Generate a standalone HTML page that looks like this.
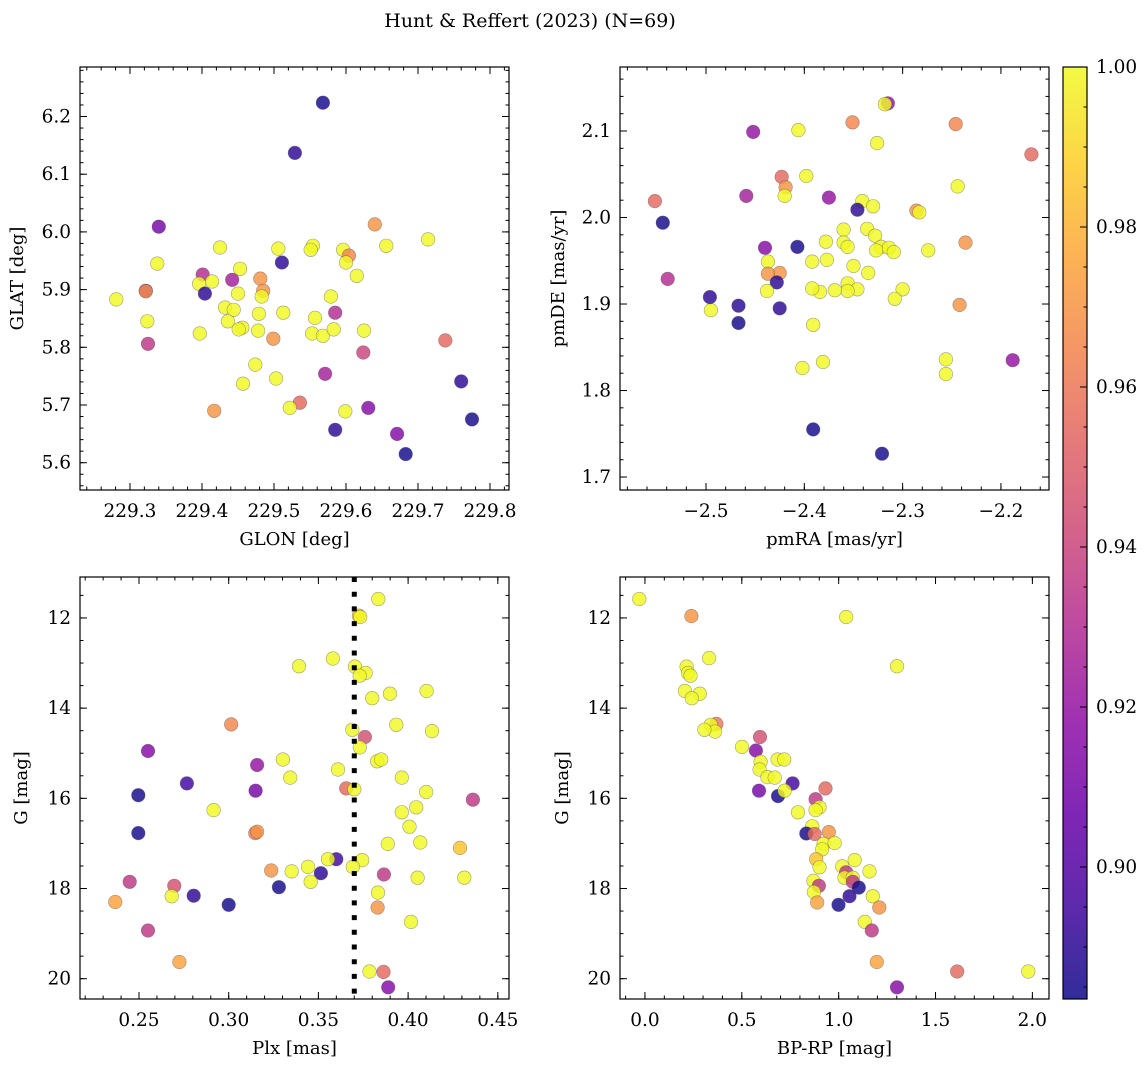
<!DOCTYPE html>
<html><head><meta charset="utf-8"><title>Hunt & Reffert (2023)</title>
<style>
html,body{margin:0;padding:0;background:#fff;}
svg text{font-family:"DejaVu Serif","Liberation Serif",serif;fill:#000;}
</style></head>
<body>
<svg id="chart" xmlns="http://www.w3.org/2000/svg" width="1148" height="1067" viewBox="0 0 1148 1067">
<text x="530" y="27" font-size="19" text-anchor="middle">Hunt &amp; Reffert (2023) (N=69)</text>
</svg>
<script>
// ---- Panel 1: GLON vs GLAT ----
const p1x=[229.568,229.529,229.340,229.640,229.714,229.656,229.425,229.506,229.554,229.551,229.596,229.604,229.600,229.338,229.511,229.453,229.401,229.615,229.442,229.481,229.414,229.396,229.322,229.322,229.485,229.404,229.281,229.579,229.483,229.450,229.585,229.513,229.432,229.444,229.479,229.557,229.324,229.436,229.456,229.478,229.451,229.625,229.553,229.568,229.583,229.397,229.499,229.738,229.325,229.624,229.474,229.571,229.503,229.457,229.760,229.536,229.522,229.631,229.417,229.599,229.775,229.585,229.671,229.683];
const p1y=[6.224,6.137,6.009,6.013,5.987,5.976,5.973,5.971,5.976,5.969,5.969,5.959,5.947,5.945,5.947,5.936,5.926,5.924,5.917,5.919,5.914,5.910,5.898,5.897,5.898,5.893,5.883,5.888,5.888,5.893,5.860,5.860,5.869,5.865,5.858,5.851,5.845,5.845,5.834,5.829,5.831,5.829,5.824,5.820,5.831,5.824,5.815,5.812,5.806,5.791,5.770,5.754,5.746,5.737,5.741,5.704,5.695,5.695,5.690,5.689,5.675,5.657,5.650,5.615];
const p1p=[0.885,0.89,0.91,0.97,1,1,1,1,1,1,1,0.965,1,1,0.89,1,0.93,1,0.925,0.97,1,1,0.91,0.97,0.97,0.89,1,1,1,1,0.93,1,1,1,1,1,1,1,1,1,1,1,1,1,1,1,0.97,0.955,0.935,0.94,1,0.925,1,1,0.89,0.955,1,0.915,0.97,1,0.885,0.89,0.915,0.885];
const p1xTicks=[229.3,229.4,229.5,229.6,229.7,229.8];
const p1yTicks=[5.6,5.7,5.8,5.9,6.0,6.1,6.2];
// ---- Panel 2: pmRA vs pmDE ----
const p2x=[-2.315,-2.318,-2.351,-2.246,-2.452,-2.406,-2.326,-2.169,-2.398,-2.423,-2.419,-2.244,-2.459,-2.375,-2.420,-2.552,-2.341,-2.330,-2.346,-2.286,-2.283,-2.544,-2.360,-2.336,-2.328,-2.378,-2.236,-2.360,-2.356,-2.322,-2.314,-2.407,-2.440,-2.309,-2.327,-2.274,-2.377,-2.392,-2.437,-2.350,-2.425,-2.437,-2.335,-2.539,-2.356,-2.428,-2.438,-2.346,-2.356,-2.369,-2.300,-2.384,-2.392,-2.308,-2.242,-2.467,-2.425,-2.495,-2.391,-2.467,-2.496,-2.381,-2.256,-2.188,-2.402,-2.256,-2.391,-2.321];
const p2y=[2.132,2.131,2.110,2.108,2.099,2.101,2.086,2.073,2.048,2.047,2.035,2.036,2.025,2.023,2.025,2.019,2.019,2.013,2.009,2.008,2.006,1.994,1.986,1.987,1.979,1.972,1.971,1.971,1.966,1.966,1.965,1.966,1.965,1.960,1.962,1.962,1.951,1.949,1.949,1.944,1.936,1.935,1.936,1.929,1.924,1.925,1.915,1.917,1.915,1.916,1.917,1.914,1.918,1.906,1.899,1.898,1.895,1.893,1.876,1.878,1.908,1.833,1.836,1.835,1.826,1.819,1.755,1.727];
const p2p=[0.92,1,0.965,0.965,0.92,1,1,0.955,1,0.955,0.97,1,0.925,0.92,1,0.955,1,1,0.89,0.97,1,0.885,1,1,1,1,0.97,1,1,1,1,0.885,0.915,1,1,1,1,1,1,1,0.97,0.97,1,0.93,1,0.89,1,1,1,1,1,1,1,1,0.97,0.89,0.89,1,1,0.885,0.89,1,1,0.92,1,1,0.885,0.885];
const p2xTicks=[-2.5,-2.4,-2.3,-2.2];
const p2yTicks=[1.7,1.8,1.9,2.0,2.1];
// ---- Panel 3: Plx vs G ----
const p3x=[0.3834,0.3726,0.3733,0.3581,0.3392,0.3704,0.3763,0.3730,0.3899,0.4103,0.3800,0.3014,0.3934,0.3689,0.4133,0.3759,0.3731,0.2550,0.3302,0.3828,0.3850,0.3158,0.3609,0.3343,0.3965,0.2767,0.3150,0.3655,0.3700,0.2496,0.4101,0.4361,0.2916,0.3965,0.4045,0.4008,0.2496,0.3148,0.3158,0.3887,0.4068,0.4289,0.3600,0.3553,0.3744,0.3442,0.3692,0.3237,0.3351,0.3514,0.3865,0.2448,0.2697,0.3457,0.4053,0.4313,0.3280,0.3832,0.2682,0.2805,0.2368,0.3000,0.3830,0.4016,0.2550,0.2725,0.3785,0.3863,0.3889];
const p3y=[11.58,11.95,11.98,12.90,13.07,13.08,13.22,13.28,13.68,13.62,13.78,14.36,14.37,14.48,14.51,14.64,14.87,14.95,15.14,15.18,15.14,15.26,15.36,15.54,15.54,15.67,15.83,15.78,15.80,15.93,15.86,16.03,16.26,16.31,16.20,16.63,16.77,16.77,16.74,17.01,16.98,17.10,17.35,17.35,17.37,17.52,17.52,17.60,17.62,17.66,17.69,17.85,17.94,17.85,17.76,17.76,17.97,18.09,18.17,18.16,18.30,18.36,18.42,18.74,18.93,19.63,19.84,19.85,20.19];
const p3p=[1,0.985,1,1,1,1,1,1,1,1,1,0.965,1,1,1,0.945,1,0.915,1,1,1,0.92,1,1,1,0.895,0.91,0.955,1,0.885,1,0.935,1,1,1,1,0.885,0.96,0.97,1,1,0.985,0.895,1,1,1,1,0.97,1,0.89,0.935,0.935,0.945,1,1,1,0.885,1,1,0.89,0.975,0.885,0.97,1,0.935,0.975,1,0.955,0.915];
const p3xTicks=[0.25,0.30,0.35,0.40,0.45];
const gTicks=[12,14,16,18,20];
const plxCut=[0.37];
// ---- Panel 4: BP-RP vs G ----
const p4x=[-0.029,0.240,1.039,0.331,0.215,0.223,0.235,1.301,0.206,0.283,0.242,0.369,0.340,0.362,0.307,0.594,0.501,0.573,0.597,0.685,0.719,0.592,0.632,0.670,0.762,0.589,0.687,0.721,0.932,0.881,0.901,0.881,0.790,0.864,0.833,0.876,0.949,0.922,0.979,0.915,0.884,0.901,1.083,1.018,1.159,1.039,1.030,1.073,1.073,1.104,0.870,0.898,0.872,1.056,1.176,0.889,0.999,1.210,1.135,1.171,1.197,1.612,1.979,1.301];
const p4y=[11.58,11.96,11.98,12.89,13.08,13.22,13.28,13.07,13.62,13.68,13.78,14.35,14.37,14.52,14.48,14.64,14.86,14.94,15.19,15.14,15.14,15.36,15.53,15.54,15.67,15.83,15.95,15.83,15.78,16.02,16.20,16.26,16.31,16.62,16.78,16.79,16.75,17.01,16.99,17.13,17.35,17.53,17.37,17.51,17.62,17.64,17.76,17.76,17.85,17.98,17.83,17.94,18.08,18.17,18.17,18.31,18.36,18.42,18.74,18.93,19.63,19.84,19.84,20.19];
const p4p=[1,0.97,1,1,1,1,1,1,1,1,1,0.96,1,1,1,0.945,1,0.915,1,1,1,1,1,1,0.895,0.91,0.885,1,0.955,0.935,1,1,1,1,0.885,0.955,0.97,1,1,1,0.985,1,1,1,1,0.935,1,1,0.935,0.885,1,0.935,1,0.89,1,0.975,0.885,0.97,1,0.935,0.975,0.955,1,0.915];
const p4xTicks=[0.0,0.5,1.0,1.5,2.0];
// ---- Colorbar ----
const cbTicks=[0.90,0.92,0.94,0.96,0.98,1.00];
const cbRange=[0.8835,1.0];

const NS="http://www.w3.org/2000/svg";
const svg=document.getElementById('chart');
function mk(tag,attrs,parent){const e=document.createElementNS(NS,tag);for(const k in attrs)e.setAttribute(k,attrs[k]);(parent||svg).appendChild(e);return e;}
const stops=[[13,8,135],[65,4,157],[106,0,168],[143,13,164],[177,42,144],[204,71,120],[225,100,98],[242,132,75],[252,166,54],[252,206,37],[240,249,33]];
function plasma(t){t=Math.max(0,Math.min(1,t));const f=t*10,i=Math.min(9,Math.floor(f)),r=f-i;const a=stops[i],b=stops[i+1];return 'rgb('+a.map((v,k)=>Math.round(v+(b[k]-v)*r)).join(',')+')';}
function cnorm(p){return (p-cbRange[0])/(cbRange[1]-cbRange[0]);}
function fmt(v,d){let s=v.toFixed(d);if(v<0)s='\u2212'+s.slice(1);return s;}
const TFS=18.5, LFS=18;

function panel(o){
  const g=mk('g',{});
  
  
  const sx=v=>o.L+(v-o.xr[0])/(o.xr[1]-o.xr[0])*(o.R-o.L);
  const sy=v=>o.inv? o.T+(v-o.yr[0])/(o.yr[1]-o.yr[0])*(o.B-o.T) : o.B-(v-o.yr[0])/(o.yr[1]-o.yr[0])*(o.B-o.T);
  const pts=mk('g',{},g);
  
  
  for(let i=0;i<o.x.length;i++){
    const c=mk('circle',{cx:sx(o.x[i]).toFixed(1),cy:sy(o.y[i]).toFixed(1),r:6.8,fill:plasma(cnorm(o.p[i])),'fill-opacity':0.82,stroke:'#555','stroke-opacity':0.55,'stroke-width':0.6},pts);
    
    
  }
  if(o.vline){for(const v of o.vline){const l=mk('line',{x1:sx(v),x2:sx(v),y1:o.T,y2:o.B,stroke:'#000','stroke-width':5,'stroke-dasharray':'5,9.7'},g);
    
    }}
  const fr=mk('rect',{x:o.L,y:o.T,width:o.R-o.L,height:o.B-o.T,fill:'none',stroke:'#000','stroke-width':1.2},g);
  
  
  const tk=mk('g',{stroke:'#000','stroke-width':1},g);
  
  
  const xs=Math.ceil(o.xr[0]/o.xm-1e-6);
  for(let k=xs;k*o.xm<=o.xr[1]+1e-9;k++){const X=sx(k*o.xm);mk('line',{x1:X,x2:X,y1:o.B,y2:o.B-3.5},tk);mk('line',{x1:X,x2:X,y1:o.T,y2:o.T+3.5},tk);}
  const ys=Math.ceil(o.yr[0]/o.ym-1e-6);
  for(let k=ys;k*o.ym<=o.yr[1]+1e-9;k++){const Y=sy(k*o.ym);mk('line',{x1:o.L,x2:o.L+3.5,y1:Y,y2:Y},tk);mk('line',{x1:o.R,x2:o.R-3.5,y1:Y,y2:Y},tk);}
  for(const v of o.xt){const X=sx(v);mk('line',{x1:X,x2:X,y1:o.B,y2:o.B-7},tk);mk('line',{x1:X,x2:X,y1:o.T,y2:o.T+7},tk);
    const t=mk('text',{x:X,y:o.B+27,'font-size':TFS,'text-anchor':'middle'},g);t.textContent=fmt(v,o.xd);
    
    }
  for(const v of o.yt){const Y=sy(v);mk('line',{x1:o.L,x2:o.L+7,y1:Y,y2:Y},tk);mk('line',{x1:o.R,x2:o.R-7,y1:Y,y2:Y},tk);
    const t=mk('text',{x:o.L-9,y:Y+6,'font-size':TFS,'text-anchor':'end'},g);t.textContent=fmt(v,o.yd);
    
    }
  const xl=mk('text',{x:(o.L+o.R)/2,y:o.B+55,'font-size':LFS,'text-anchor':'middle'},g);xl.textContent=o.xlab;
  
  
  const yc=(o.T+o.B)/2;
  const yl=mk('text',{x:o.ylx,y:yc,'font-size':LFS,'text-anchor':'middle',transform:'rotate(-90 '+o.ylx+' '+yc+')'},g);yl.textContent=o.ylab;
  
  
}
panel({name:'panel-glon-glat',L:80,R:509,T:67,B:490,xr:[229.2306,229.8264],yr:[5.5527,6.2858],inv:false,x:p1x,y:p1y,p:p1p,xt:p1xTicks,yt:p1yTicks,xm:0.02,ym:0.02,xd:1,yd:1,xlab:'GLON [deg]',ylab:'GLAT [deg]',ylx:23});
panel({name:'panel-pmra-pmde',L:620,R:1049,T:67,B:490,xr:[-2.5875,-2.1511],yr:[1.6850,2.1740],inv:false,x:p2x,y:p2y,p:p2p,xt:p2xTicks,yt:p2yTicks,xm:0.02,ym:0.02,xd:1,yd:1,xlab:'pmRA [mas/yr]',ylab:'pmDE [mas/yr]',ylx:564});
panel({name:'panel-plx-g',L:80,R:509,T:577,B:999,xr:[0.21711,0.45624],yr:[11.092,20.45],inv:true,x:p3x,y:p3y,p:p3p,xt:p3xTicks,yt:gTicks,xm:0.01,ym:0.5,xd:2,yd:0,xlab:'Plx [mas]',ylab:'G [mag]',ylx:27,vline:plxCut});
panel({name:'panel-bprp-g',L:620,R:1049,T:577,B:999,xr:[-0.1288,2.0858],yr:[11.092,20.45],inv:true,x:p4x,y:p4y,p:p4p,xt:p4xTicks,yt:gTicks,xm:0.1,ym:0.5,xd:1,yd:0,xlab:'BP-RP [mag]',ylab:'G [mag]',ylx:568});

(function(){
  const L=1063,R=1087,T=67,B=999;
  const defs=mk('defs',{});
  const lg=mk('linearGradient',{id:'cbg',x1:0,y1:1,x2:0,y2:0},defs);
  for(let i=0;i<=20;i++){mk('stop',{offset:(i/20),'stop-color':plasma(i/20),'stop-opacity':0.85},lg);}
  const g=mk('g',{});
  
  
  mk('rect',{x:L,y:T,width:R-L,height:B-T,fill:'url(#cbg)'},g);
  mk('rect',{x:L,y:T,width:R-L,height:B-T,fill:'none',stroke:'#000','stroke-width':1.2},g);
  const sy=v=>B-(v-cbRange[0])/(cbRange[1]-cbRange[0])*(B-T);
  for(let k=Math.ceil(cbRange[0]/0.005);k*0.005<=cbRange[1]+1e-9;k++){const Y=sy(k*0.005);mk('line',{x1:R,x2:R-3.5,y1:Y,y2:Y,stroke:'#000'},g);}
  for(const v of cbTicks){const Y=sy(v);mk('line',{x1:R,x2:R-7,y1:Y,y2:Y,stroke:'#000'},g);
    const t=mk('text',{x:R+9,y:Y+6,'font-size':TFS},g);t.textContent=v.toFixed(2);
    
    }
})();
</script>
</body></html>
